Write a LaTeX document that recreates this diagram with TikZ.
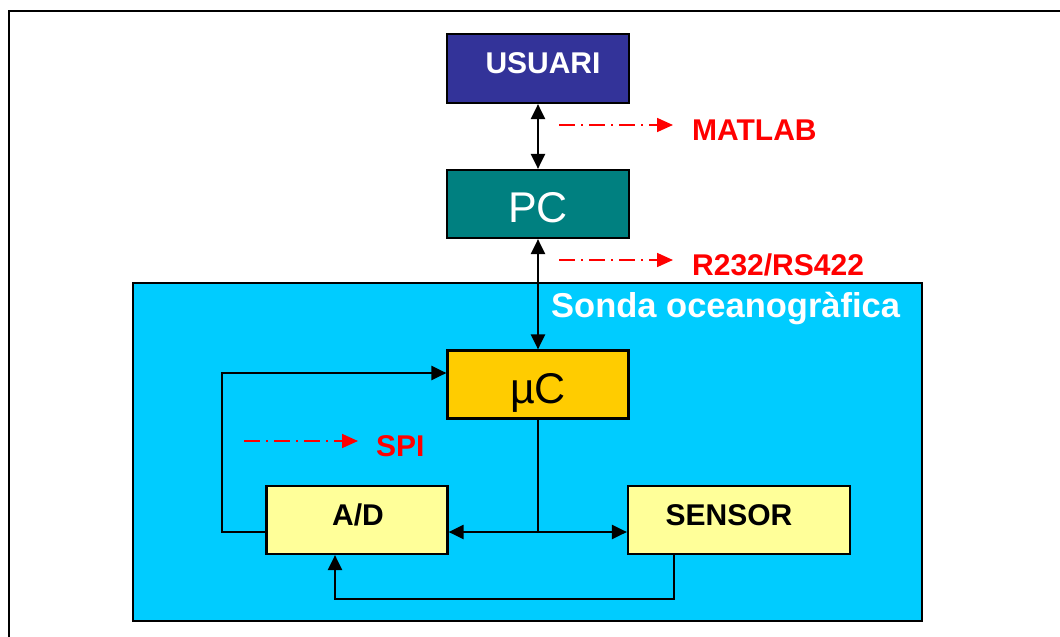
\documentclass[tikz,border=0pt]{standalone}
\usepackage{fontspec}
\setmainfont{Liberation Sans}
\usetikzlibrary{arrows.meta}
\definecolor{usucol}{HTML}{333399}
\definecolor{pccol}{HTML}{008080}
\definecolor{uccol}{HTML}{FFCC00}
\definecolor{yelcol}{HTML}{FFFF99}
\definecolor{sondacol}{HTML}{00CCFF}
\definecolor{redcol}{HTML}{FF0000}
\begin{document}
\begin{tikzpicture}[x=1pt,y=-1pt,
  box/.style={draw=black,line width=2.2pt,rectangle,inner sep=0pt},
  blk/.style={line width=2.2pt,draw=black},
  arr/.style={blk,-{Triangle[length=15pt,width=14pt]}},
  biarr/.style={blk,{Triangle[length=15pt,width=14pt]}-{Triangle[length=15pt,width=14pt]}},
  red arrow/.style={draw=redcol,line width=1.7pt,dash pattern=on 16pt off 6pt on 2pt off 6pt,-{Triangle[length=16pt,width=14pt]}},
  redtxt/.style={anchor=base west,text=redcol,font=\fontsize{30}{31}\selectfont\bfseries,inner sep=0pt},
  boldtxt/.style={anchor=base,font=\fontsize{30}{31}\selectfont\bfseries,inner sep=0pt},
  bigtxt/.style={anchor=base,font=\fontsize{43}{44}\selectfont,inner sep=0pt}]
\useasboundingbox (0,0) rectangle (1060,637);
% outer frame
\coordinate (fbl) at (9,637);
\coordinate (ftl) at (9,11);
\coordinate (ftr) at (1060,11);
\draw[line width=2.5pt] (fbl) -- (ftl) -- (ftr);
% probe area
\node[box,fill=sondacol,minimum width=789pt,minimum height=338pt] (sonda) at (527.5,452) {};
\node[anchor=base west,text=white,font=\fontsize{34.5}{36}\selectfont\bfseries,inner sep=0pt] (sondatxt) at (551,317.5) {Sonda oceanogràfica};
% blocks
\node[box,fill=usucol,minimum width=182pt,minimum height=69pt] (usuari) at (538,68.5) {};
\node[boldtxt,text=white] (usuaritxt) at (543,73.3) {USUARI};
\node[box,fill=pccol,minimum width=182pt,minimum height=68pt] (pc) at (538,204) {};
\node[bigtxt,text=white] (pctxt) at (538,222.3) {PC};
\node[box,fill=uccol,minimum width=181pt,minimum height=68pt] (uc) at (538,384.5) {};
\node[bigtxt] (uctxt) at (538,403.3) {µC};
\node[box,fill=yelcol,minimum width=181pt,minimum height=68pt] (ad) at (357,520) {};
\node[boldtxt] (adtxt) at (358,525) {A/D};
\node[box,fill=yelcol,minimum width=222pt,minimum height=68pt] (sensor) at (739,520) {};
\node[boldtxt] (sensortxt) at (729,525) {SENSOR};
% connectors
\draw[biarr] (usuari.south) -- (pc.north);
\draw[biarr] (pc.south) -- (uc.north);
\coordinate (junc) at (538,532);
\draw[blk] (uc.south) -- (junc);
\draw[arr] (junc) -- (ad.east |- junc);
\draw[arr] (junc) -- (sensor.west |- junc);
\coordinate (loopbl) at (222,532);
\coordinate (looptl) at (222,373);
\draw[arr] (ad.west |- loopbl) -- (loopbl) -- (looptl) -- (uc.west |- looptl);
\coordinate (botr) at (674,599);
\coordinate (botl) at (335,599);
\draw[arr] (sensor.south -| botr) -- (botr) -- (botl) -- (ad.south -| botl);
% protocol labels
\coordinate (m1) at (559,125); \coordinate (m2) at (673,125);
\draw[red arrow] (m1) -- (m2);
\node[redtxt] (matlab) at (692,140.7) {MATLAB};
\coordinate (r1) at (559,260); \coordinate (r2) at (673,260);
\draw[red arrow] (r1) -- (r2);
\node[redtxt] (rs) at (692,275.7) {R232/RS422};
\coordinate (s1) at (244,441); \coordinate (s2) at (358,441);
\draw[red arrow] (s1) -- (s2);
\node[redtxt] (spi) at (376,456.7) {SPI};
\end{tikzpicture}
\end{document}
